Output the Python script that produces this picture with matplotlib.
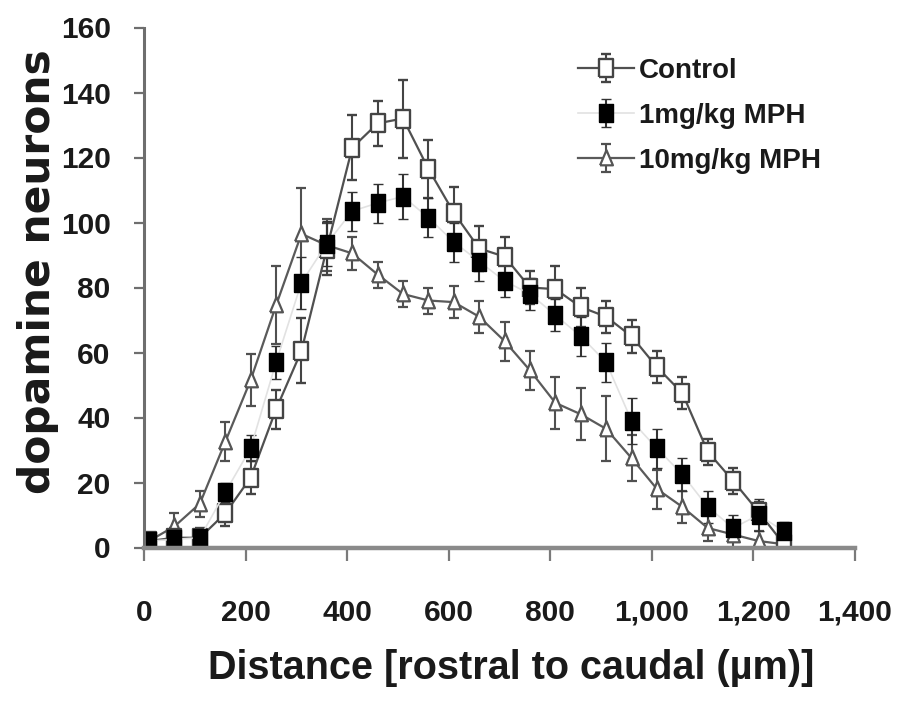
import matplotlib
matplotlib.use("Agg")
import matplotlib.pyplot as plt
from matplotlib.ticker import FuncFormatter, MultipleLocator

# ---- data ----
distance = [10, 60, 110, 160, 210, 260, 310, 360, 410, 460, 510, 560, 610,
            660, 710, 760, 810, 860, 910, 960, 1010, 1060, 1110, 1160, 1210, 1260]

control = [2, 3, 3, 10.5, 21.5, 42.5, 60.5, 92, 123, 130.5, 132, 116.5, 103,
           92, 89.5, 80, 79.5, 74, 71, 65, 55.5, 47.5, 29.5, 20.5, 11, 1]
control_err = [2, 3, 3, 4, 5, 6, 10, 8, 10, 7, 12, 9, 8, 7, 6, 5, 7, 6, 5, 5,
               5, 5, 4, 4, 3, 2]

mph1 = [2, 2.5, 3, 17, 30.5, 57, 81.5, 93.5, 103.5, 106, 108, 101.5, 94, 88,
        82, 78, 71.5, 65, 57, 39, 30.5, 22.5, 12.5, 6, 10, 5]
mph1_err = [2, 3, 2, 3, 4, 5, 8, 7, 6, 6, 7, 6, 6, 6, 5, 5, 5, 6, 6, 7, 6, 5,
            5, 4, 5, 3]

mph10 = [2, 6.5, 13.5, 32.5, 51.5, 74.5, 96.5, 93, 90.5, 84, 78, 76, 75.5, 71,
         63.5, 54.5, 44.5, 41, 36.5, 27.5, 18, 12.5, 6, 4, 2, 1]
mph10_err = [2, 4, 4, 6, 8, 12, 14, 8, 5, 4, 4, 4, 5, 5, 6, 6, 8, 8, 10, 7, 6,
             5, 4, 4, 3, 2]

labels = ["Control", "1mg/kg MPH", "10mg/kg MPH"]
x_label = "Distance [rostral to caudal (\u00b5m)]"
y_label = "dopamine neurons"

# ---- figure ----
W, H = 898, 709
fig = plt.figure(figsize=(W / 100, H / 100), dpi=100)
ax = fig.add_axes([144 / W, 1 - 547.5 / H, (855 - 144) / W, 520 / H])

FONT = "Liberation Sans"
ebkw = dict(capsize=3.4, capthick=1.8, elinewidth=1.5, zorder=2)

# slightly tall markers, as in the (vertically stretched) reference
tall_square = [(-0.8, -1), (0.8, -1), (0.8, 1), (-0.8, 1), (-0.8, -1)]
tall_tri = [(-0.85, -0.9), (0.85, -0.9), (0, 1.1), (-0.85, -0.9)]

ax.errorbar(distance, mph10, yerr=mph10_err, color="#5a5a5a", lw=1.6,
            marker=tall_tri, ms=12, mfc="white", mec="#555555", mew=1.6,
            ecolor="#505050", label=labels[2], **ebkw)
ax.errorbar(distance, control, yerr=control_err, color="#505050", lw=1.6,
            marker=tall_square, ms=12.5, mfc="white", mec="#444444", mew=1.7,
            ecolor="#444444", label=labels[0], **ebkw)
ax.errorbar(distance, mph1, yerr=mph1_err, color="#e2e2e2", lw=1.2,
            marker=tall_square, ms=13, mfc="black", mec="black", mew=1,
            ecolor="#333333", label=labels[1], **ebkw)

ax.set_xlim(0, 1400)
ax.set_ylim(0, 160)
ax.xaxis.set_major_locator(MultipleLocator(200))
ax.yaxis.set_major_locator(MultipleLocator(20))
ax.xaxis.set_major_formatter(FuncFormatter(lambda v, p: f"{int(v):,}"))

for s in ("top", "right"):
    ax.spines[s].set_visible(False)
ax.spines["left"].set_color("#6e6e6e")
ax.spines["left"].set_linewidth(2.2)
ax.spines["bottom"].set_color("#8a8a8a")
ax.spines["bottom"].set_linewidth(3.2)

ax.tick_params(axis="y", direction="out", length=7, width=1.6, color="#6e6e6e",
               pad=17)
ax.tick_params(axis="x", direction="out", length=9, width=1.6, color="#7a7a7a",
               pad=28)
for t in ax.get_xticklabels() + ax.get_yticklabels():
    t.set_fontfamily(FONT)
    t.set_fontweight("bold")
    t.set_fontsize(21.5)
    t.set_color("#1a1a1a")

ax.set_xlabel(x_label, fontfamily=FONT, fontweight="bold", fontsize=28.5,
              color="#1a1a1a")
ax.xaxis.label.set_verticalalignment("center")
ax.xaxis.set_label_coords((511 - 144) / 711, (547.5 - 668) / 520)

ax.set_ylabel(y_label, fontfamily="DejaVu Sans", fontweight="bold",
              fontsize=30.5, color="#1a1a1a")
ax.yaxis.label.set_verticalalignment("center")
ax.yaxis.set_label_coords((38 - 144) / 711, (547.5 - 272) / 520)

handles, labs = ax.get_legend_handles_labels()
order = [labs.index(l) for l in labels]
leg = ax.legend([handles[i] for i in order], [labs[i] for i in order],
                loc="upper left", bbox_to_anchor=((578 - 144) / 711, (547.5 - 58) / 520),
                frameon=False, borderpad=0, borderaxespad=0, handlelength=2.0,
                handletextpad=0.2, labelspacing=0.68,
                prop=dict(family=FONT, weight="bold", size=20))
for t in leg.get_texts():
    t.set_color("#1a1a1a")

fig.savefig("out.png", dpi=100)
